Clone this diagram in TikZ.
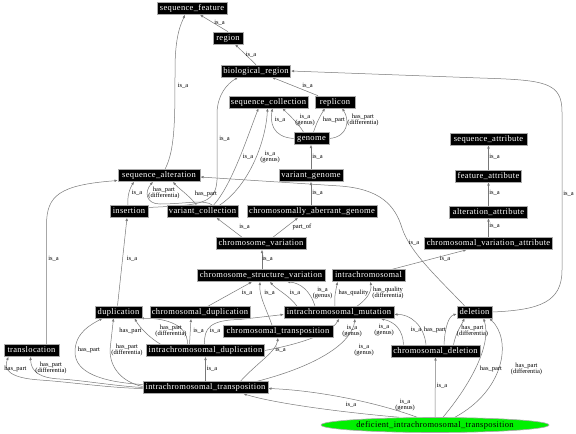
\documentclass[tikz,border=0pt]{standalone}
\usepackage{fontspec}
\setmainfont{Liberation Serif}
\newfontfamily\boxfont{Liberation Serif}[LetterSpace=4]
\usetikzlibrary{arrows.meta,shapes.geometric}
\pgfdeclarelayer{bg}
\pgfsetlayers{bg,main}
\definecolor{edgegray}{RGB}{120,120,120}
\definecolor{boxborder}{RGB}{170,170,170}
\definecolor{ellgreen}{RGB}{0,240,0}
\tikzset{
  obox/.style={fill=black, draw=boxborder, line width=0.6pt, text=white,
    font=\boxfont\fontsize{8.5}{9}\selectfont, inner xsep=2pt, inner ysep=0pt,
    minimum height=12pt, text height=6pt, text depth=1.9pt, minimum width=#1},
  lbl/.style={font=\fontsize{6.5}{6.5}\selectfont, align=center, inner sep=0pt},
  conn/.style={draw=edgegray, line width=0.5pt, -{Latex[length=3.2pt,width=2.6pt]}}
}
\begin{document}
\begin{tikzpicture}[x=1pt,y=-1pt]
\useasboundingbox (0,0) rectangle (576,434);
% nodes
\node[obox=70] (sf) at (192,8.5) {sequence\_feature};
\node[obox=30] (region) at (228,38) {region};
\node[obox=68] (bioreg) at (256,71) {biological\_region};
\node[obox=79] (seqcol) at (268.5,102) {sequence\_collection};
\node[obox=40] (replicon) at (335,102) {replicon};
\node[obox=35] (genome) at (311.5,138.5) {genome};
\node[obox=64] (vargen) at (311,175.5) {variant\_genome};
\node[obox=130] (cag) at (312,211.5) {chromosomally\_aberrant\_genome};
\node[obox=77] (seqattr) at (488.5,139) {sequence\_attribute};
\node[obox=66] (featattr) at (488.5,176) {feature\_attribute};
\node[obox=78] (altattr) at (488.5,212) {alteration\_attribute};
\node[obox=127] (cva) at (488.5,243.5) {chromosomal\_variation\_attribute};
\node[obox=82] (seqalt) at (159,175.5) {sequence\_alteration};
\node[obox=38] (insertion) at (129,211.5) {insertion};
\node[obox=69] (varcol) at (202.5,211.5) {variant\_collection};
\node[obox=90] (chromvar) at (261,243.5) {chromosome\_variation};
\node[obox=128] (csv) at (261,275.5) {chromosome\_structure\_variation};
\node[obox=73] (intrachrom) at (368.5,275.5) {intrachromosomal};
\node[obox=100] (chromdup) at (200,312.5) {chromosomal\_duplication};
\node[obox=110] (icm) at (339,312.5) {intrachromosomal\_mutation};
\node[obox=47] (dup) at (118.5,312) {duplication};
\node[obox=110] (chromtrans) at (278,331.5) {chromosomal\_transposition};
\node[obox=35] (deletion) at (474.5,312) {deletion};
\node[obox=89] (chromdel) at (435.5,351) {chromosomal\_deletion};
\node[obox=117] (icdup) at (205.5,350.5) {intrachromosomal\_duplication};
\node[obox=55] (transloc) at (31.5,350.5) {translocation};
\node[obox=125] (ictrans) at (205.5,387.5) {intrachromosomal\_transposition};
\node[ellipse, fill=ellgreen, draw=boxborder, line width=0.6pt, minimum width=228pt,
  minimum height=15pt, inner sep=0pt, font=\boxfont\fontsize{8.5}{9}\selectfont]
  (dict) at (435,425) {deficient\_intrachromosomal\_transposition};
% labels
\node[lbl] (l1) at (219.5,23) {is\_a};
\node[lbl] (l2) at (251,55) {is\_a};
\node[lbl] (l3) at (183,86) {is\_a};
\node[lbl] (l4) at (307.5,86) {is\_a};
\node[lbl] (l5) at (224.5,139) {is\_a};
\node[lbl] (l6) at (248,157) {is\_a};
\node[lbl] (l7) at (270,157) {is\_a\\(genus)};
\node[lbl] (l8) at (280,120) {is\_a};
\node[lbl] (l9) at (305,120) {is\_a\\(genus)};
\node[lbl] (l10) at (334,120) {has\_part};
\node[lbl] (l11) at (363,120) {has\_part\\(differentia)};
\node[lbl] (l12) at (317.5,157) {is\_a};
\node[lbl] (l13) at (317.5,193) {is\_a};
\node[lbl] (l14) at (494.5,157) {is\_a};
\node[lbl] (l15) at (494.5,193) {is\_a};
\node[lbl] (l16) at (494.5,226) {is\_a};
\node[lbl] (l17) at (445,259) {is\_a};
\node[lbl] (l18) at (414,243) {is\_a};
\node[lbl] (l19) at (568.5,194) {is\_a};
\node[lbl] (l20) at (137,193) {is\_a};
\node[lbl] (l21) at (206,194) {has\_part};
\node[lbl] (l22) at (164,193) {has\_part\\(differentia)};
\node[lbl] (l23) at (53.5,259) {is\_a};
\node[lbl] (l24) at (132,259) {is\_a};
\node[lbl] (l25) at (244.5,227) {is\_a};
\node[lbl] (l26) at (302,227) {part\_of};
\node[lbl] (l27) at (267.5,259) {is\_a};
\node[lbl] (l28) at (247,293) {is\_a};
\node[lbl] (l29) at (269.5,293) {is\_a};
\node[lbl] (l30) at (295,293) {is\_a};
\node[lbl] (l31) at (322.5,293) {is\_a\\(genus)};
\node[lbl] (l32) at (353.5,293) {has\_quality};
\node[lbl] (l33) at (388,293) {has\_quality\\(differentia)};
\node[lbl] (l34) at (198.5,331) {is\_a};
\node[lbl] (l35) at (215,331) {is\_a};
\node[lbl] (l36) at (130.5,331) {has\_part};
\node[lbl] (l37) at (171,331) {has\_part\\(differentia)};
\node[lbl] (l38) at (352,331) {is\_a\\(genus)};
\node[lbl] (l39) at (89,350) {has\_part};
\node[lbl] (l40) at (127,350) {has\_part\\(differentia)};
\node[lbl] (l41) at (15.5,369) {has\_part};
\node[lbl] (l42) at (51,368) {has\_part\\(differentia)};
\node[lbl] (l43) at (212,369) {is\_a};
\node[lbl] (l44) at (280.5,350) {is\_a};
\node[lbl] (l45) at (364,350) {is\_a\\(genus)};
\node[lbl] (l46) at (384,330) {is\_a\\(genus)};
\node[lbl] (l47) at (416,330) {is\_a};
\node[lbl] (l48) at (435,330) {has\_part};
\node[lbl] (l49) at (472.5,331) {has\_part\\(differentia)};
\node[lbl] (l50) at (442,386) {is\_a};
\node[lbl] (l51) at (491,369) {has\_part};
\node[lbl] (l52) at (526.5,369) {has\_part\\(differentia)};
\node[lbl] (l53) at (351,404.5) {is\_a};
\node[lbl] (l54) at (405,405) {is\_a\\(genus)};
% connectors
\begin{pgfonlayer}{bg}
\fill[white] (0,0) rectangle (576,434);
\draw[conn] (region.north) -- ([xshift=8pt]sf.south);
\draw[conn] (bioreg.north) -- ([xshift=7pt]region.south);
\draw[conn] ([xshift=6pt]seqalt.north) .. controls (175,150) and (175,120) .. (175,70) .. controls (175,35) and (181,24) .. ([xshift=-7pt]sf.south);
\draw[conn] ([xshift=-17pt]replicon.north) -- ([xshift=16pt]bioreg.south);
\draw[conn] ([yshift=4pt]insertion.east) .. controls (195,205) and (216,206) .. (217,180) -- (217,112) .. controls (218,94) and (227,84) .. ([xshift=-18pt]bioreg.south);
\draw[conn] ([xshift=11pt]varcol.north) .. controls (232,185) and (248,135) .. ([xshift=-10pt]seqcol.south);
\draw[conn] ([xshift=17pt]varcol.north) .. controls (250,185) and (266,140) .. ([xshift=-1pt]seqcol.south);
\draw[conn] (genome.west) .. controls (272,137) and (270,122) .. ([xshift=4pt]seqcol.south);
\draw[conn] ([xshift=-8pt]genome.north) .. controls (299,124) and (290,116) .. ([xshift=14pt]seqcol.south);
\draw[conn] ([xshift=2pt]genome.north) .. controls (316,124) and (320,116) .. ([xshift=-10pt]replicon.south);
\draw[conn] (genome.east) .. controls (348,137) and (350,120) .. ([xshift=7pt]replicon.south);
\draw[conn] (vargen.north) -- ([xshift=-0.5pt]genome.south);
\draw[conn] ([xshift=-1pt]cag.north) -- (vargen.south);
\draw[conn] (featattr.north) -- (seqattr.south);
\draw[conn] (altattr.north) -- (featattr.south);
\draw[conn] (cva.north) -- (altattr.south);
\draw[conn] ([xshift=-1pt]insertion.north) .. controls (127,196) and (130,188) .. ([xshift=-25pt]seqalt.south);
\draw[conn] ([xshift=-6pt]varcol.north) .. controls (190,196) and (178,188) .. ([xshift=14pt]seqalt.south);
\draw[conn] ([xshift=10pt]varcol.north) .. controls (205,199) and (185,204) .. (160,204) .. controls (146,204) and (144,192) .. ([xshift=-6pt]seqalt.south);
\draw[conn] ([xshift=-10pt]deletion.north) .. controls (435,275) and (410,252) .. (402,228) .. controls (395,205) and (380,189) .. (340,186) -- ([yshift=-1.5pt]seqalt.east);
\draw[conn] (deletion.east) .. controls (540,310) and (562,302) .. (562,270) -- (562,112) .. controls (562,82) and (545,80) .. (480,78) -- (bioreg.east);
\draw[conn] ([xshift=24pt]intrachrom.north) -- ([xshift=-22pt]cva.south);
\draw[conn] ([xshift=15pt]transloc.north) -- (46.5,225) .. controls (46.5,195) and (60,185) .. ([yshift=-5pt]seqalt.west);
\draw[conn] ([xshift=-1pt]dup.north) -- ([xshift=-2pt]insertion.south);
\draw[conn] ([xshift=-19pt]chromvar.north) -- ([xshift=14pt]varcol.south);
\draw[conn] ([xshift=12pt]chromvar.north) -- ([xshift=-14pt]cag.south);
\draw[conn] ([xshift=1pt]csv.north) -- ([xshift=1pt]chromvar.south);
\draw[conn] ([xshift=8pt]chromdup.north) -- ([xshift=-9pt]csv.south);
\draw[conn] ([xshift=-6pt]chromtrans.north) .. controls (266,308) and (259,296) .. ([xshift=-1pt]csv.south);
\draw[conn] ([xshift=-42pt]icm.north) .. controls (290,296) and (276,289) .. ([xshift=9pt]csv.south);
\draw[conn] ([xshift=-24pt]icm.north) .. controls (310,290) and (300,283) .. ([xshift=26pt]csv.south);
\draw[conn] ([xshift=-4pt]icm.north) .. controls (334,296) and (336,290) .. ([xshift=-31pt]intrachrom.south);
\draw[conn] ([xshift=18pt]icm.north) .. controls (366,300) and (372,292) .. ([xshift=2pt]intrachrom.south);
\draw[conn] ([xshift=-16pt]icdup.north) -- ([xshift=-9pt]chromdup.south);
\draw[conn] ([xshift=-1pt]icdup.north) .. controls (204,328) and (210,320) .. (240,319.5) -- ([yshift=-2pt]icm.west);
\draw[conn] (icdup.east) .. controls (295,345) and (330,335) .. (icm.south);
\draw[conn] ([xshift=-45pt]icdup.north) .. controls (150,338) and (140,328) .. ([xshift=16pt]dup.south);
\draw[conn] ([xshift=-18pt]icdup.north) .. controls (188,322) and (160,318) .. ([xshift=22pt]dup.south);
\draw[conn] ([yshift=3pt]ictrans.west) .. controls (100,382) and (75,372) .. (75,352) .. controls (75,332) and (92,324) .. ([xshift=-16pt]dup.south);
\draw[conn] ([yshift=1pt]ictrans.west) .. controls (122,382) and (110,368) .. (110,350) -- ([xshift=-5pt]dup.south);
\draw[conn] ([yshift=-1pt]ictrans.west) .. controls (110,388) and (70,382) .. (40,380) .. controls (10,378) and (3,370) .. ([xshift=-23pt]transloc.south);
\draw[conn] (ictrans.west) .. controls (115,386) and (80,380) .. (60,379) .. controls (40,378) and (31,372) .. ([xshift=-1pt]transloc.south);
\draw[conn] (ictrans.north) -- (icdup.south);
\draw[conn] ([xshift=35pt]ictrans.north) .. controls (258,362) and (276,352) .. (chromtrans.south);
\draw[conn] ([xshift=52pt]ictrans.north) .. controls (320,365) and (352,342) .. ([xshift=16pt]icm.south);
\draw[conn] ([xshift=-32pt]chromdel.north) .. controls (403,330) and (395,322) .. ([xshift=42pt]icm.south);
\draw[conn] ([xshift=-9.5pt]chromdel.north) .. controls (424,325) and (410,314) .. ([yshift=-2pt]icm.east);
\draw[conn] ([xshift=8.5pt]chromdel.north) .. controls (445,326) and (449,316) .. ([yshift=-2pt]deletion.west);
\draw[conn] ([xshift=18pt]chromdel.north) .. controls (456,332) and (461,326) .. ([xshift=-10pt]deletion.south);
\draw[conn] (dict.north) -- (chromdel.south);
\draw[conn] ([xshift=8pt]dict.north) .. controls (470,385) and (492,345) .. ([xshift=9pt]deletion.south);
\draw[conn] ([xshift=20pt]dict.north) .. controls (505,390) and (512,340) .. ([xshift=15pt]deletion.south);
\draw[conn] ([xshift=-18pt]dict.north) .. controls (370,400) and (310,390) .. ([yshift=-1pt]ictrans.east);
\draw[conn] ([xshift=-36pt]dict.north) .. controls (360,414) and (280,405) .. ([xshift=38pt]ictrans.south);
\end{pgfonlayer}
\end{tikzpicture}
\end{document}
